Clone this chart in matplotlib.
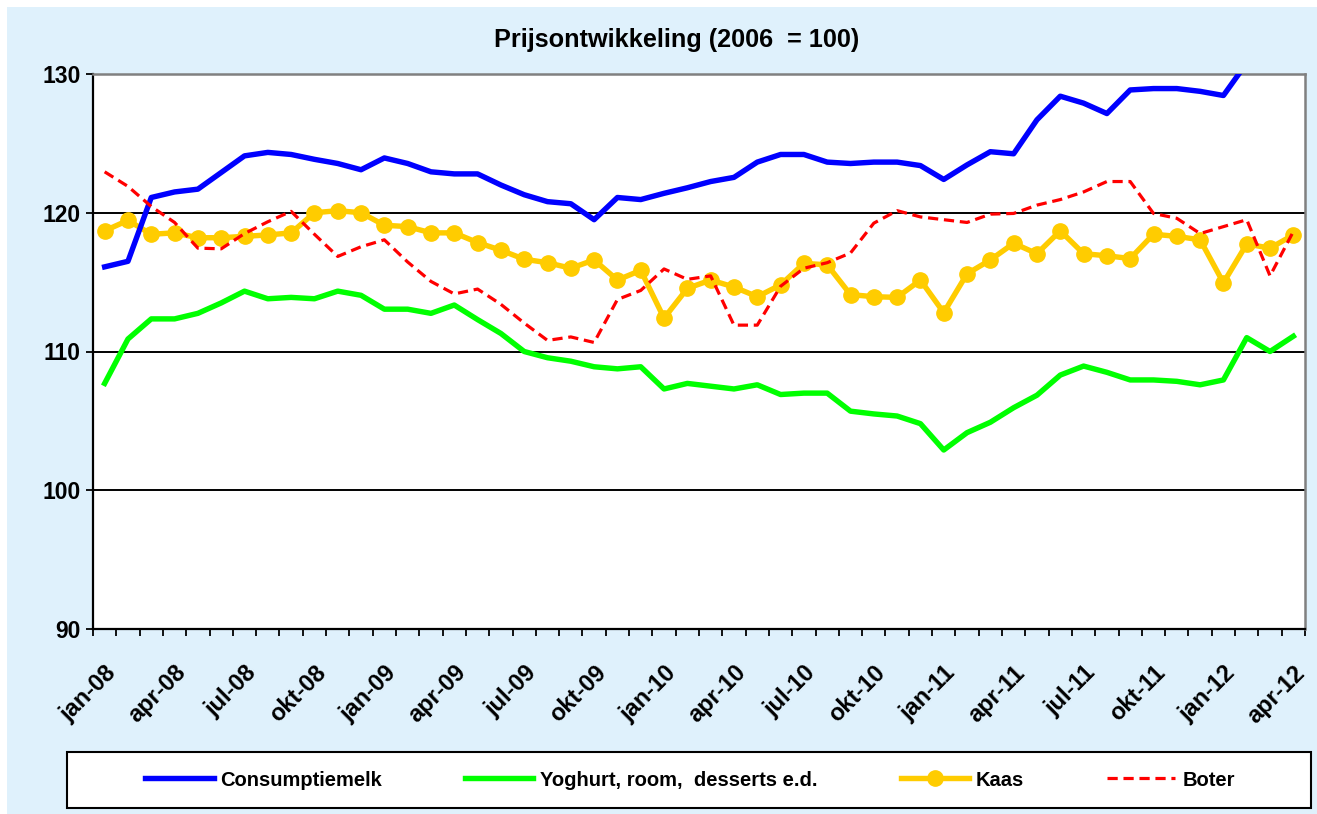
import numpy as np
import matplotlib
matplotlib.use("Agg")
import matplotlib.pyplot as plt
from matplotlib.patches import Rectangle

plt.rcParams['font.family'] = ['Liberation Sans', 'DejaVu Sans']
plt.rcParams['font.weight'] = 'bold'

# maanden jan-08 t/m apr-12
maanden = ['jan', 'feb', 'mrt', 'apr', 'mei', 'jun', 'jul', 'aug', 'sep', 'okt', 'nov', 'dec']
periodes = [f"{m}-{j:02d}" for j in range(8, 13) for m in maanden][:52]

consumptiemelk = [116.1, 116.5, 121.1, 121.5, 121.7, 122.9, 124.1, 124.35, 124.2, 123.85,
                  123.55, 123.1, 123.95, 123.55, 122.95, 122.8, 122.8, 122.0, 121.3, 120.8,
                  120.65, 119.5, 121.1, 120.95, 121.4, 121.8, 122.25, 122.55, 123.65, 124.2,
                  124.2, 123.65, 123.55, 123.65, 123.65, 123.4, 122.4, 123.45, 124.4, 124.25,
                  126.7, 128.4, 127.9, 127.15, 128.85, 128.95, 128.95, 128.75, 128.45, 130.8,
                  131.3, 131.8]
yoghurt = [107.7, 110.9, 112.35, 112.35, 112.75, 113.5, 114.35, 113.8, 113.9, 113.8,
           114.35, 114.05, 113.05, 113.05, 112.75, 113.35, 112.3, 111.3, 110.0, 109.55,
           109.3, 108.9, 108.75, 108.9, 107.3, 107.7, 107.5, 107.3, 107.6, 106.9,
           107.0, 107.0, 105.7, 105.5, 105.35, 104.8, 102.9, 104.15, 104.9, 105.95,
           106.85, 108.3, 108.95, 108.5, 107.95, 107.95, 107.85, 107.6, 107.95, 111.0,
           110.0, 111.1]
kaas = [118.7, 119.45, 118.45, 118.55, 118.2, 118.2, 118.3, 118.4, 118.55, 120.0,
        120.15, 120.0, 119.1, 119.0, 118.55, 118.55, 117.85, 117.3, 116.65, 116.4,
        116.0, 116.6, 115.15, 115.85, 112.4, 114.55, 115.15, 114.65, 113.95, 114.8,
        116.35, 116.25, 114.1, 113.95, 113.9, 115.15, 112.8, 115.6, 116.6, 117.8,
        117.05, 118.7, 117.05, 116.9, 116.7, 118.45, 118.3, 118.05, 114.95, 117.75,
        117.45, 118.4]
boter = [122.95, 121.9, 120.45, 119.3, 117.45, 117.4, 118.5, 119.35, 120.1, 118.45,
         116.85, 117.55, 118.05, 116.45, 115.05, 114.15, 114.5, 113.4, 112.05, 110.8,
         111.05, 110.65, 113.75, 114.4, 115.95, 115.2, 115.45, 111.9, 111.9, 114.7,
         116.0, 116.4, 117.1, 119.25, 120.15, 119.7, 119.5, 119.3, 119.9, 119.95,
         120.55, 120.95, 121.5, 122.25, 122.25, 119.95, 119.6, 118.5, 119.0, 119.5,
         115.45, 118.65]

fig = plt.figure(figsize=(13.17, 8.14), dpi=100, facecolor='white')
W, H = 1317, 814
fig.patches.append(Rectangle((7 / W, 0), 1 - 7 / W, 1 - 7 / H, transform=fig.transFigure,
                             facecolor='#dff1fc', edgecolor='none', zorder=-10))

ax = fig.add_axes([93 / W, 1 - 629 / H, (1305 - 93) / W, (629 - 74) / H])
ax.set_facecolor('white')
x = np.arange(len(periodes))

ax.plot(x, consumptiemelk, color='#0000ff', lw=3.9, label='Consumptiemelk', zorder=5)
ax.plot(x, yoghurt, color='#00ff00', lw=3.9, label='Yoghurt, room,  desserts e.d.', zorder=4)
ax.plot(x, kaas, color='#ffcc00', lw=3.9, marker='o', markersize=11, label='Kaas', zorder=3)
ax.plot(x, boter, color='#ff0000', lw=2.3, ls=(0, (3.2, 1.8)), label='Boter', zorder=6)

ax.set_xlim(-0.5, len(periodes) - 0.5)
ax.set_ylim(90, 130)
ax.set_yticks([90, 100, 110, 120, 130])
ax.grid(axis='y', color='black', lw=1.4)
ax.set_axisbelow(True)

ax.set_xticks(x[::3])
ax.set_xticklabels(periodes[::3], rotation=45, ha='right', va='top', rotation_mode='anchor',
                   fontsize=17, fontweight='bold')
ax.set_xticks(np.arange(-0.5, len(periodes)), minor=True)
ax.tick_params(axis='x', which='major', length=0, pad=23)
ax.tick_params(axis='x', which='minor', length=5, width=1.3, direction='out', color='black')
ax.tick_params(axis='y', length=5, width=1.3, direction='out', pad=4, labelsize=16.5)
for lbl in ax.get_yticklabels():
    lbl.set_fontweight('bold')

for side in ['left', 'bottom']:
    ax.spines[side].set_color('black')
    ax.spines[side].set_linewidth(1.6)
for side in ['top', 'right']:
    ax.spines[side].set_color('#808080')
    ax.spines[side].set_linewidth(1.8)

fig.text(677 / W, 1 - 40 / H, 'Prijsontwikkeling (2006  = 100)', ha='center', va='center',
         fontsize=18.2, fontweight='bold')

# legendakader
fig.patches.append(Rectangle((67 / W, 1 - 808 / H), (1311 - 67) / W, (808 - 752) / H,
                             transform=fig.transFigure, facecolor='white', edgecolor='black',
                             lw=1.5, zorder=1))
leg = fig.legend(loc='center', bbox_to_anchor=(690 / W, 1 - 780 / H), ncol=4, frameon=False,
                 handlelength=3.4, handletextpad=0.35, columnspacing=4.1,
                 prop={'weight': 'bold', 'size': 14.5})

fig.savefig('out.png', dpi=100, facecolor=fig.get_facecolor())
